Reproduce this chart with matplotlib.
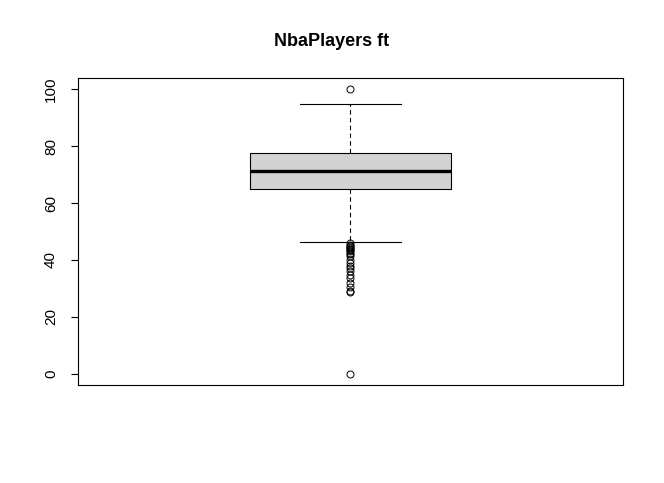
import matplotlib
matplotlib.use("Agg")
import matplotlib.pyplot as plt

plt.rcParams['font.family'] = ['Liberation Sans', 'DejaVu Sans']

# summary statistics
q1 = 65.0
median = 71.4
q3 = 77.7
whisker_low = 46.3
whisker_high = 94.7
outliers = [100.0, 0.0, 45.8, 45.4, 45.0, 44.6, 44.2, 43.8, 43.4, 43.0, 42.5,
            42.0, 41.2, 40.0, 39.0, 38.0, 37.0, 36.0, 34.8, 33.5, 32.0, 30.5,
            29.2, 28.6]
yticks = [0, 20, 40, 60, 80, 100]

stats = [{
    'med': median, 'q1': q1, 'q3': q3,
    'whislo': whisker_low, 'whishi': whisker_high,
    'fliers': outliers, 'label': '',
}]

fig = plt.figure(figsize=(6.64, 4.83), dpi=100)
ax = fig.add_axes([0.1175, 0.203, 0.8205, 0.6355])

ax.bxp(stats, positions=[1], widths=0.37, patch_artist=True, showfliers=True,
       boxprops=dict(facecolor='#d3d3d3', edgecolor='black', linewidth=0.8),
       medianprops=dict(color='black', linewidth=2.4),
       whiskerprops=dict(color='black', linewidth=0.8, linestyle=(0, (4, 3))),
       capprops=dict(color='black', linewidth=0.8),
       capwidths=0.185,
       flierprops=dict(marker='o', markerfacecolor='none', markeredgecolor='black',
                       markersize=5, markeredgewidth=0.7))

ax.set_xlim(0.5, 1.5)
ax.set_ylim(-4, 104)
ax.set_xticks([])
ax.set_yticks(yticks)
ax.set_yticklabels([str(t) for t in yticks], rotation=90, va='center', fontsize=11)
ax.tick_params(axis='y', length=5, width=0.8, pad=9.5)
for s in ax.spines.values():
    s.set_linewidth(0.8)

fig.suptitle("NbaPlayers ft", fontsize=13, fontweight='bold', y=0.932)

fig.savefig("out.png", dpi=100)
